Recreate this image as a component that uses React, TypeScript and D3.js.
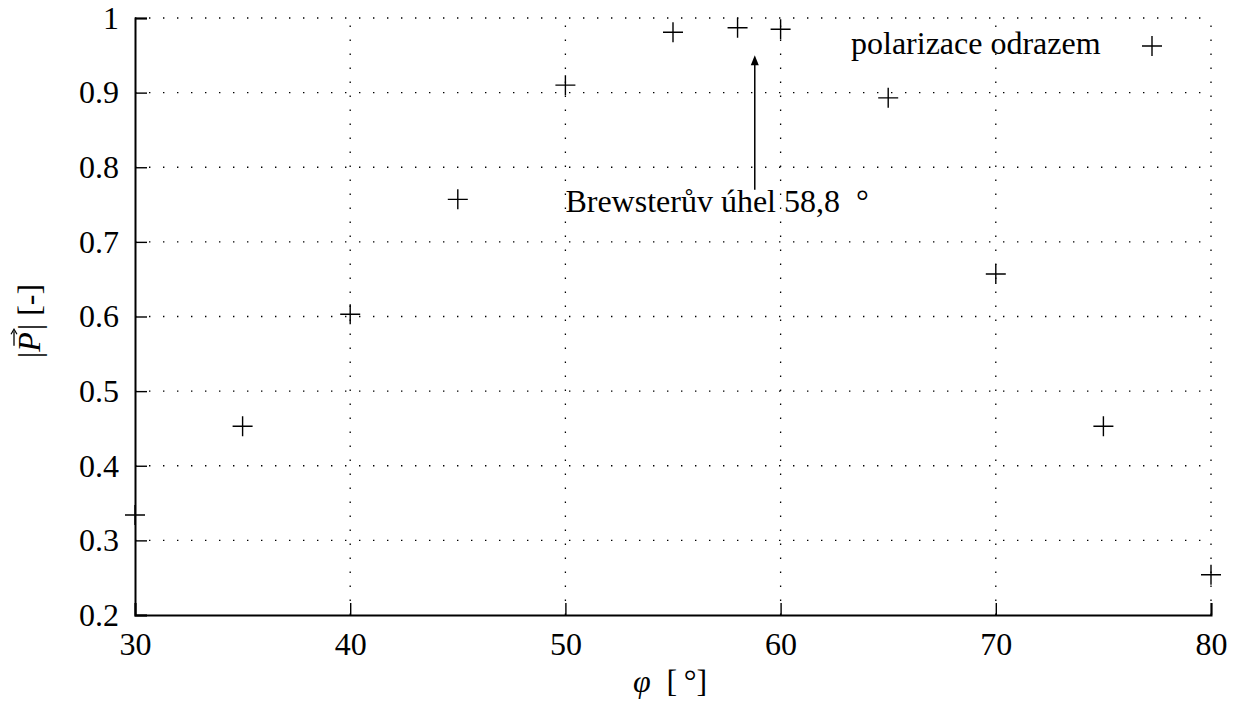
import React, { useEffect, useRef } from 'react';
import * as d3 from 'd3';

// measured angles (deg) and polarization magnitude
const angles = [30, 35, 40, 45, 50, 55, 58, 60, 65, 70, 75, 80];
const polarization = [0.334, 0.453, 0.603, 0.757, 0.91, 0.981, 0.987, 0.985, 0.893, 0.657, 0.453, 0.254];
const xTicks = [30, 40, 50, 60, 70, 80];
const yTicks = [0.2, 0.3, 0.4, 0.5, 0.6, 0.7, 0.8, 0.9, 1];
const legendLabel = 'polarizace odrazem';
const brewsterAngle = 58.8;
const brewsterLabel = 'Brewsterův úhel 58,8 \u00a0°';

const W = 1237;
const H = 704;
const FONT = '"Liberation Serif", serif';
const FS = 32;

const App = () => {
  const ref = useRef<SVGSVGElement>(null);

  useEffect(() => {
    const svg = d3.select(ref.current);
    svg.selectAll('*').remove();

    const margin = { top: 18, right: 26, bottom: 89, left: 135 };
    const x = d3.scaleLinear().domain([30, 80]).range([margin.left, W - margin.right]);
    const y = d3.scaleLinear().domain([0.2, 1]).range([H - margin.bottom, margin.top]);

    // dotted grid
    const grid = svg.append('g').attr('stroke', '#000').attr('stroke-width', 1.3)
      .attr('stroke-dasharray', '1.4 12.6');
    grid.selectAll('line.gx').data(xTicks.slice(1)).join('line')
      .attr('x1', d => x(d)).attr('x2', d => x(d))
      .attr('y1', y(0.2)).attr('y2', y(1));
    grid.selectAll('line.gy').data(yTicks.slice(1)).join('line')
      .attr('class', 'gy')
      .attr('x1', x(30)).attr('x2', x(80))
      .attr('y1', d => y(d)).attr('y2', d => y(d));

    // axes (inward ticks)
    const xAxis = svg.append('g').attr('transform', `translate(0,${y(0.2)})`)
      .call(d3.axisBottom(x).tickValues(xTicks).tickSize(-12).tickFormat(d3.format('d')));
    const yAxis = svg.append('g').attr('transform', `translate(${x(30)},0)`)
      .call(d3.axisLeft(y).tickValues(yTicks).tickSize(-12).tickPadding(16).tickFormat(d => d3.format('')(d as number)));
    [xAxis, yAxis].forEach(a => {
      a.attr('font-family', null).attr('font-size', null);
      a.select('.domain').attr('stroke-width', 2);
      a.selectAll('.tick line').attr('stroke-width', 1.4);
      a.selectAll('text').style('font-family', FONT).style('font-size', `${FS}px`).attr('fill', '#000');
    });
    xAxis.selectAll('.tick text').attr('dy', '0.71em').attr('y', 17);

    // markers
    const s = 10;
    svg.append('g').selectAll('path').data(angles).join('path')
      .attr('d', (d, i) => {
        const cx = x(d), cy = y(polarization[i]);
        return `M${cx - s},${cy}H${cx + s}M${cx},${cy - s}V${cy + s}`;
      })
      .attr('stroke', '#000').attr('stroke-width', 1.4).attr('fill', 'none');

    // Brewster annotation
    const ax = x(brewsterAngle);
    const yStart = y(0.77), yEnd = y(0.95);
    svg.append('line').attr('x1', ax).attr('x2', ax).attr('y1', yStart).attr('y2', yEnd + 8)
      .attr('stroke', '#000').attr('stroke-width', 1.5);
    svg.append('path')
      .attr('d', `M${ax},${yEnd}L${ax - 4},${yEnd + 10}L${ax + 4},${yEnd + 10}Z`)
      .attr('fill', '#000');
    svg.append('text').attr('x', x(50)).attr('y', y(0.74))
      .style('font-family', FONT).style('font-size', `${FS}px`).attr('fill', '#000')
      .text(brewsterLabel);

    // legend
    svg.append('text').attr('x', 851).attr('y', 54)
      .style('font-family', FONT).style('font-size', `${FS}px`).attr('fill', '#000')
      .text(legendLabel);
    svg.append('path')
      .attr('d', `M${1152 - s},46H${1152 + s}M1152,${46 - s}V${46 + s}`)
      .attr('stroke', '#000').attr('stroke-width', 1.4);

    // axis labels
    const xl = svg.append('text').attr('x', 670).attr('y', 692)
      .attr('text-anchor', 'middle').style('font-family', FONT).style('font-size', `${FS}px`);
    xl.append('tspan').attr('font-style', 'italic').text('φ');
    xl.append('tspan').text('\u00a0\u00a0[\u2009°]');

    // y label |P⃗| [-], built piecewise so the vector arrow sits over P
    const yl = svg.append('g')
      .attr('transform', `translate(40,321) rotate(-90)`);
    const parts = [
      { t: '|', italic: false },
      { t: 'P', italic: true },
      { t: '|\u00a0[-]', italic: false },
    ];
    let cursor = 0;
    const pos: number[] = [];
    parts.forEach(p => {
      const node = yl.append('text').attr('x', cursor)
        .style('font-family', FONT).style('font-size', `${FS}px`)
        .attr('font-style', p.italic ? 'italic' : null).text(p.t);
      pos.push(cursor);
      const w = (node.node() as SVGTextElement).getComputedTextLength();
      cursor += w + (p.italic ? 2 : 0);
    });
    const pw = pos[2] - pos[1];
    const arrX0 = pos[1] + 6, arrX1 = pos[1] + pw + 1, arrY = -26;
    yl.append('path').attr('d', `M${arrX0},${arrY}H${arrX1 - 2}`)
      .attr('stroke', '#000').attr('stroke-width', 1.3);
    yl.append('path').attr('d', `M${arrX1 - 5},${arrY - 3}L${arrX1},${arrY}L${arrX1 - 5},${arrY + 3}`)
      .attr('stroke', '#000').attr('stroke-width', 1.2).attr('fill', 'none');
    yl.selectAll('text, path').attr('transform', `translate(${-cursor / 2},0)`);
  }, []);

  return (
    <svg ref={ref} width={W} height={H}
      style={{ position: 'absolute', left: 0, top: 0, background: '#fff' }} />
  );
};

export default App;
